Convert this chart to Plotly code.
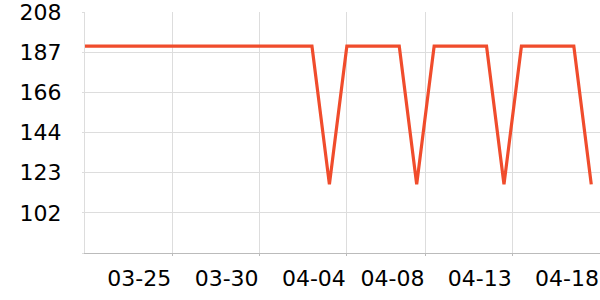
import plotly.graph_objects as go
import pandas as pd

# Data: daily values
dates = pd.date_range("2024-03-20", periods=30, freq="D").strftime("%Y-%m-%d").tolist()
values = [190, 190, 190, 190, 190, 190, 190, 190, 190, 190,
          190, 190, 190, 190, 117, 190, 190, 190, 190, 117,
          190, 190, 190, 190, 117, 190, 190, 190, 190, 117]

# Axis ticks
x_tick_vals = ["2024-03-25 00:00", "2024-03-30 00:00", "2024-04-04 00:00",
               "2024-04-08 12:00", "2024-04-13 12:00", "2024-04-18 12:00"]
x_tick_text = ["03-25", "03-30", "04-04", "04-08", "04-13", "04-18"]
x_range = ["2024-03-20 00:00", "2024-04-18 12:00"]

y_min, y_max = 80.8, 208.0
y_tick_vals = [80.8, 102.0, 123.2, 144.4, 165.6, 186.8, 208.0]
y_tick_text = ["", "102", "123", "144", "166", "187", "208"]

fig = go.Figure()
fig.add_trace(go.Scatter(
    x=dates, y=values, mode="lines",
    line=dict(color="#f04c2c", width=3.2),
    showlegend=False, hoverinfo="skip",
))

font = dict(family="DejaVu Sans", size=22, color="#000000")

fig.update_layout(
    width=600, height=300,
    margin=dict(l=85, r=0, t=10, b=47),
    paper_bgcolor="white", plot_bgcolor="white",
    font=font,
    xaxis=dict(
        type="date", range=x_range,
        tickmode="array", tickvals=x_tick_vals, ticktext=x_tick_text,
        ticklabelposition="outside left", ticklabeloverflow="allow",
        showgrid=True, gridcolor="#dddddd", gridwidth=1,
        showline=True, linecolor="#bbbbbb", linewidth=1,
        ticks="outside", ticklen=2, tickcolor="#bbbbbb",
        ticklabelstandoff=6,
        zeroline=False, tickfont=font,
    ),
    yaxis=dict(
        range=[y_min, y_max],
        tickmode="array", tickvals=y_tick_vals, ticktext=y_tick_text,
        ticklabeloverflow="allow",
        showgrid=True, gridcolor="#dddddd", gridwidth=1,
        showline=True, linecolor="#dddddd", linewidth=1,
        ticks="outside", ticklen=2, tickcolor="#dddddd",
        ticklabelstandoff=16,
        zeroline=False, tickfont=font,
    ),
)

fig.write_html("out.html")
